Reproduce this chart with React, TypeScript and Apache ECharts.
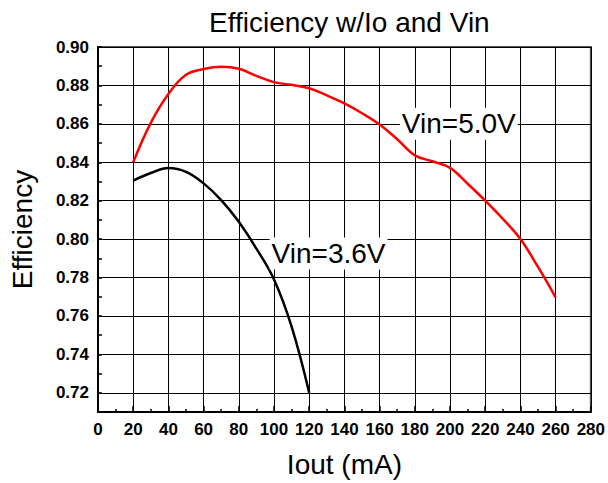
import React, { useEffect, useRef } from 'react';
import * as echarts from 'echarts';

// Vin = 5.0 V curve
const iout50 = [20, 30, 40, 50, 60, 70, 80, 90, 100, 110, 120, 130, 140, 150, 160, 170, 180, 190, 200, 210, 220, 230, 240, 250, 260];
const eff50 = [0.840, 0.8605, 0.8755, 0.8855, 0.8885, 0.8897, 0.8887, 0.885, 0.8817, 0.8803, 0.8785, 0.8748, 0.8706, 0.8655, 0.8597, 0.852, 0.8436, 0.8405, 0.8371, 0.8288, 0.820, 0.8105, 0.800, 0.7855, 0.7697];

// Vin = 3.6 V curve
const iout36 = [20, 30, 40, 50, 60, 70, 80, 90, 100, 110, 120];
const eff36 = [0.8305, 0.8344, 0.837, 0.835, 0.829, 0.8203, 0.809, 0.795, 0.779, 0.7545, 0.72];

// Axis ranges
const xRange = [0, 280];
const xStep = 20;
const yRange = [0.71, 0.9];
const yStep = 0.01;

// Curve annotations [x, y, text]
const label50: [number, number, string] = [205, 0.86, 'Vin=5.0V'];
const label36: [number, number, string] = [131, 0.7925, 'Vin=3.6V'];

const FONT = "'Liberation Sans', Arial, Helvetica, sans-serif";

export default function App() {
  const ref = useRef<HTMLDivElement>(null);
  useEffect(() => {
    document.body.style.margin = '0';
    if (!ref.current) return;
    const chart = echarts.init(ref.current, null, { renderer: 'svg' });
    const mkLabel = (l: [number, number, string]) => ({
      symbol: 'rect',
      symbolSize: 1,
      itemStyle: { color: 'rgba(0,0,0,0)' },
      silent: true,
      data: [{ coord: [l[0], l[1]], value: l[2] }],
      label: {
        show: true,
        position: 'inside',
        formatter: l[2],
        fontFamily: FONT,
        fontSize: 28,
        color: '#000',
        backgroundColor: '#fff',
        padding: [3, 2, 1, 2],
      },
    });
    chart.setOption({
      animation: false,
      backgroundColor: '#fff',
      textStyle: { fontFamily: FONT },
      title: {
        text: 'Efficiency w/Io and Vin',
        left: 209,
        top: 8,
        padding: 0,
        textStyle: { fontFamily: FONT, fontSize: 28, fontWeight: 'normal', color: '#000' },
      },
      grid: {
        left: 97,
        right: 15,
        top: 47,
        bottom: 67,
        show: true,
        borderColor: '#555',
        borderWidth: 2,
        backgroundColor: 'transparent',
      },
      xAxis: {
        type: 'value',
        min: xRange[0],
        max: xRange[1],
        interval: xStep,
        name: 'Iout (mA)',
        nameLocation: 'middle',
        nameGap: 38,
        nameTextStyle: { fontFamily: FONT, fontSize: 28, color: '#000' },
        axisLine: { show: true, onZero: false, lineStyle: { color: '#000', width: 2 } },
        axisTick: { show: true, inside: true, length: 6, lineStyle: { color: '#000', width: 1.5 } },
        minorTick: { show: true, splitNumber: 2, length: 3, lineStyle: { color: '#000', width: 1.5 } },
        axisLabel: { fontFamily: FONT, fontSize: 17, fontWeight: 'bold', color: '#000', margin: 9 },
        splitLine: { show: true, lineStyle: { color: '#000', width: 1 } },
      },
      yAxis: {
        type: 'value',
        min: yRange[0],
        max: yRange[1],
        interval: yStep,
        name: 'Efficiency',
        nameLocation: 'middle',
        nameGap: 62,
        nameTextStyle: { fontFamily: FONT, fontSize: 28, color: '#000' },
        axisLine: { show: true, onZero: false, lineStyle: { color: '#000', width: 2 } },
        axisTick: { show: true, inside: true, length: 4, lineStyle: { color: '#000', width: 1.5 } },
        axisLabel: {
          fontFamily: FONT,
          fontSize: 17,
          fontWeight: 'bold',
          color: '#000',
          margin: 9,
          formatter: (v: number) => (Math.round(v * 100) % 2 === 0 ? v.toFixed(2) : ''),
        },
        splitLine: { show: true, lineStyle: { color: ['rgba(0,0,0,0)', '#000'], width: 1 } },
      },
      series: [
        {
          type: 'line',
          name: 'Vin=5.0V',
          data: iout50.map((x, i) => [x, eff50[i]]),
          smooth: 0.4,
          showSymbol: false,
          lineStyle: { color: '#ff0000', width: 2.5 },
          itemStyle: { color: '#ff0000' },
          markPoint: mkLabel(label50),
          z: 3,
        },
        {
          type: 'line',
          name: 'Vin=3.6V',
          data: iout36.map((x, i) => [x, eff36[i]]),
          smooth: 0.4,
          showSymbol: false,
          lineStyle: { color: '#000', width: 2.5 },
          itemStyle: { color: '#000' },
          markPoint: mkLabel(label36),
          z: 3,
        },
      ],
    });
    return () => chart.dispose();
  }, []);
  return <div ref={ref} style={{ width: 608, height: 483 }} />;
}
